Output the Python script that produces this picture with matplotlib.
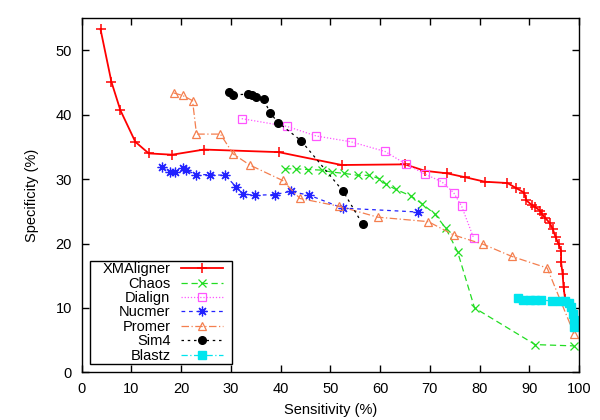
import numpy as np
import matplotlib
matplotlib.use('Agg')
import matplotlib.pyplot as plt
from matplotlib.offsetbox import DrawingArea

plt.rcParams['font.family'] = ['Liberation Sans', 'DejaVu Sans']

# data (sensitivity %, specificity %)
xma_x = [3.8, 6.0, 7.8, 10.8, 13.5, 18.2, 24.6, 39.6, 52.3, 65.0, 69.0, 73.5, 77.1, 81.1,
         85.6, 87.4, 89.0, 89.4, 90.5, 91.1, 92.2, 92.5, 93.2, 94.1, 94.7, 95.3, 95.9,
         96.4, 96.4, 96.7, 96.9, 97.2]
xma_y = [53.3, 45.1, 40.7, 35.8, 34.0, 33.8, 34.6, 34.2, 32.2, 32.3, 31.3, 30.9, 30.3, 29.6,
         29.4, 28.6, 27.9, 26.7, 26.0, 25.7, 25.1, 24.6, 24.0, 23.2, 22.3, 21.0, 19.9,
         18.9, 17.1, 15.3, 13.2, 11.4]

chaos_x = [40.9, 43.1, 45.6, 48.3, 50.3, 52.8, 55.5, 57.7, 59.8, 61.2, 63.2, 66.2, 68.4,
           71.0, 73.2, 75.6, 79.0, 91.2, 99.0]
chaos_y = [31.6, 31.6, 31.5, 31.4, 31.1, 30.9, 30.6, 30.6, 30.1, 29.2, 28.4, 27.4, 26.2,
           24.6, 22.4, 18.7, 10.0, 4.3, 4.1]

dialign_x = [32.2, 41.3, 47.2, 54.2, 61.0, 65.3, 69.0, 72.4, 74.8, 76.4, 78.8]
dialign_y = [39.4, 38.2, 36.7, 35.8, 34.3, 32.3, 30.8, 29.6, 27.9, 25.8, 20.9]

nucmer_x = [16.2, 17.7, 18.8, 20.3, 21.0, 23.1, 25.9, 28.8, 31.1, 32.5, 34.8, 38.8, 42.0,
            45.8, 52.5, 67.6]
nucmer_y = [31.9, 31.1, 31.1, 31.7, 31.4, 30.7, 30.7, 30.6, 28.8, 27.7, 27.5, 27.6, 28.1,
            27.5, 25.5, 24.9]

promer_x = [18.5, 20.3, 22.3, 23.1, 27.9, 30.5, 33.8, 40.4, 43.9, 51.7, 59.5, 69.7, 74.9,
            80.7, 86.5, 93.6, 99.0]
promer_y = [43.4, 43.0, 42.2, 37.0, 37.0, 33.9, 32.2, 29.8, 27.0, 25.8, 24.1, 23.4, 21.3,
            19.9, 18.0, 16.2, 6.0]

sim4_x = [29.6, 30.5, 33.5, 34.3, 35.0, 36.6, 37.9, 39.5, 44.1, 52.6, 56.5]
sim4_y = [43.5, 43.1, 43.2, 43.1, 42.8, 42.4, 40.3, 38.8, 36.0, 28.1, 23.0]

blastz_x = [87.8, 88.7, 90.1, 91.2, 92.4, 94.6, 96.1, 97.2, 98.0, 98.4, 98.7, 98.9, 99.0]
blastz_y = [11.5, 11.3, 11.3, 11.2, 11.2, 11.1, 11.1, 11.1, 10.8, 10.1, 9.1, 8.1, 7.0]

fig = plt.figure(figsize=(6, 4.2), dpi=100)
ax = fig.add_axes([0.136, 0.1136, 0.829, 0.843])

ax.plot(xma_x, xma_y, color='#ff0000', lw=1.3, marker='+', ms=7, mew=1.1,
        label='XMAligner')
ax.plot(chaos_x, chaos_y, color='#22dd22', lw=0.9, ls=(0, (5, 3)), marker='x', ms=6,
        mew=0.9, label='Chaos')
ax.plot(dialign_x, dialign_y, color='#ff55ff', lw=0.9, ls=(0, (1, 1.5)), marker='s', ms=6,
        mfc='none', mew=0.9, label='Dialign')
ax.plot(nucmer_x, nucmer_y, color='#2222ff', lw=0.9, ls=(0, (3, 3)), marker=(8, 2, 0),
        ms=7, mew=0.9, label='Nucmer')
ax.plot(promer_x, promer_y, color='#f47f4f', lw=0.9, ls=(0, (6, 2, 1, 2)), marker='^',
        ms=6, mfc='none', mew=0.9, label='Promer')
ax.plot(sim4_x, sim4_y, color='black', lw=0.9, ls=(0, (2, 3)), marker='o', ms=5.5,
        label='Sim4')
ax.plot(blastz_x, blastz_y, color='#00e5ee', lw=0.9, ls=(0, (5, 2, 1, 2)), marker='s',
        ms=6, label='Blastz')

ax.set_xlim(0, 100)
ax.set_ylim(0, 55)
ax.set_xticks(range(0, 101, 10))
ax.set_yticks(range(0, 51, 10))
ax.tick_params(direction='in', length=5, width=1, top=True, right=True,
               labelsize=10.5)
ax.tick_params(axis='x', pad=7)
ax.tick_params(axis='y', pad=7)
for s in ax.spines.values():
    s.set_linewidth(1)

ax.set_xlabel('Sensitivity (%)', fontsize=10.5, labelpad=5)
ax.set_ylabel('Specificity (%)', fontsize=10.5, labelpad=12)

# gnuplot style key: labels right aligned, sample after the label
leg = ax.legend(loc='lower left', markerfirst=False, numpoints=1, fontsize=10.5,
                fancybox=False, edgecolor='black', framealpha=1, handlelength=2.9,
                labelspacing=0.03, borderpad=0.1, borderaxespad=0.55, handletextpad=0.7,
                columnspacing=0.5)
leg.get_frame().set_linewidth(1)
# extra horizontal padding inside the key box
cols = leg._legend_handle_box.get_children()
cols.insert(0, DrawingArea(3, 1))
cols.append(DrawingArea(0.5, 1))

fig.savefig('out.png', dpi=100)
